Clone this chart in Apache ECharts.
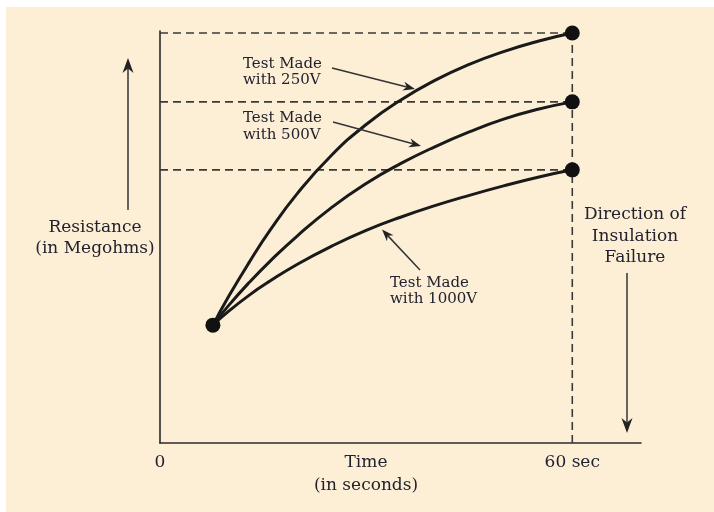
<!DOCTYPE html>
<html>
<head>
<meta charset="utf-8">
<script src="https://cdn.jsdelivr.net/npm/echarts@6/dist/echarts.min.js"></script>
<style>
html,body{margin:0;padding:0;background:#ffffff;}
#bg{position:absolute;left:6px;top:7px;width:708px;height:505px;background:#fdefd6;}
#main{position:absolute;left:0;top:0;width:714px;height:512px;}
</style>
</head>
<body>
<div id="bg"></div>
<div id="main"></div>
<script>
// ---- data (time in seconds, resistance in relative units) ----
const timeSec = [7.7, 10, 13, 16, 20, 25, 30, 35, 40, 45, 50, 55, 60];
const res250  = [28.6, 35.6, 43.9, 51.6, 60.6, 69.9, 77.3, 83.2, 88.0, 91.9, 95.0, 97.5, 99.5];
const res500  = [28.6, 33.4, 39.0, 44.1, 50.3, 57.2, 63.0, 67.8, 71.9, 75.5, 78.6, 81.0, 82.8];
const res1000 = [28.6, 32.0, 35.9, 39.3, 43.4, 47.8, 51.6, 54.8, 57.6, 60.1, 62.4, 64.5, 66.3];
const xTickValues = [0, 60];
const xTickLabels = ['0', '60 sec'];
const labels250 = 'Test Made\nwith 250V';
const labels500 = 'Test Made\nwith 500V';
const labels1000 = 'Test Made\nwith 1000V';
const yTitle = 'Resistance\n(in Megohms)';
const xTitle = 'Time\n(in seconds)';
const failTitle = 'Direction of\nInsulation\nFailure';

const FONT = 'DejaVu Serif';
const TXT = '#22222f';
const INK = '#1a1a1a';

const zip = (a, b) => a.map((v, i) => [v, b[i]]);
const last = a => a[a.length - 1];

function arrow(x1, y1, x2, y2, len, w) {
  const dx = x2 - x1, dy = y2 - y1, L = Math.hypot(dx, dy);
  const ux = dx / L, uy = dy / L, px = -uy, py = ux;
  const bx = x2 - ux * len, by = y2 - uy * len;
  const nx = x2 - ux * len * 0.7, ny = y2 - uy * len * 0.7;
  return [
    {type: 'line', silent: true, z: 50,
     shape: {x1: x1, y1: y1, x2: nx, y2: ny},
     style: {stroke: '#333', lineWidth: 1.5}},
    {type: 'polygon', silent: true, z: 50,
     shape: {points: [[x2, y2], [bx + px * w / 2, by + py * w / 2], [nx, ny], [bx - px * w / 2, by - py * w / 2]]},
     style: {fill: '#222'}}
  ];
}

function label(text, x, y, align, size, lh) {
  return {type: 'text', silent: true, z: 50, x: x, y: y,
    style: {text: text, fontFamily: FONT, fontSize: size, fill: TXT,
            align: align, verticalAlign: 'middle', lineHeight: lh}};
}

const guideStyle = {color: '#3a3a3a', width: 1.6, type: [8, 5]};
const curveStyle = {color: INK, width: 3};
const tEnd = last(timeSec);
const endPoints = [
  [timeSec[0], res250[0]],
  [tEnd, last(res250)],
  [tEnd, last(res500)],
  [tEnd, last(res1000)]
];

const chart = echarts.init(document.getElementById('main'), null, {renderer: 'canvas'});
chart.setOption({
  animation: false,
  backgroundColor: 'transparent',
  grid: {left: 160, right: 73, top: 31, bottom: 69},
  xAxis: {
    type: 'value', min: 0, max: 70, interval: 60,
    axisLine: {show: true, onZero: false, lineStyle: {color: '#2a2a2a', width: 1.6}},
    axisTick: {show: false},
    splitLine: {show: false},
    axisLabel: {
      show: true, margin: 11, showMaxLabel: false,
      fontFamily: FONT, fontSize: 17, color: TXT,
      formatter: v => { const i = xTickValues.indexOf(v); return i >= 0 ? xTickLabels[i] : ''; }
    }
  },
  yAxis: {
    type: 'value', min: 0, max: 100,
    axisLine: {show: true, onZero: false, lineStyle: {color: '#2a2a2a', width: 1.6}},
    axisTick: {show: false},
    splitLine: {show: false},
    axisLabel: {show: false}
  },
  series: [
    {type: 'line', data: [[0, last(res250)], [tEnd, last(res250)]], symbol: 'none', lineStyle: guideStyle, z: 1},
    {type: 'line', data: [[0, last(res500)], [tEnd, last(res500)]], symbol: 'none', lineStyle: guideStyle, z: 1},
    {type: 'line', data: [[0, last(res1000)], [tEnd, last(res1000)]], symbol: 'none', lineStyle: guideStyle, z: 1},
    {type: 'line', data: [[tEnd, 0], [tEnd, last(res250)]], symbol: 'none', lineStyle: guideStyle, z: 1},
    {type: 'line', data: zip(timeSec, res250), smooth: 0.5, symbol: 'none', lineStyle: curveStyle, z: 3},
    {type: 'line', data: zip(timeSec, res500), smooth: 0.5, symbol: 'none', lineStyle: curveStyle, z: 3},
    {type: 'line', data: zip(timeSec, res1000), smooth: 0.5, symbol: 'none', lineStyle: curveStyle, z: 3},
    {type: 'scatter', data: endPoints, symbol: 'circle', symbolSize: 15, itemStyle: {color: '#111', opacity: 1}, z: 4}
  ],
  graphic: [
    label(yTitle, 95, 238, 'center', 17, 21),
    label(xTitle, 366, 474.5, 'center', 17, 23),
    label(failTitle, 635, 236.5, 'center', 17, 21.5),
    label(labels250, 243, 72, 'left', 15, 16.5),
    label(labels500, 243, 126.5, 'left', 15, 16.5),
    label(labels1000, 390, 291, 'left', 15, 16.5),
    ...arrow(128, 210, 128, 58, 15, 11),
    ...arrow(627, 273, 627, 433, 15, 11),
    ...arrow(332, 68, 415, 89, 12, 9),
    ...arrow(333, 122, 421, 146, 12, 9),
    ...arrow(420, 270, 382, 229.5, 12, 9)
  ]
});
</script>
</body>
</html>
